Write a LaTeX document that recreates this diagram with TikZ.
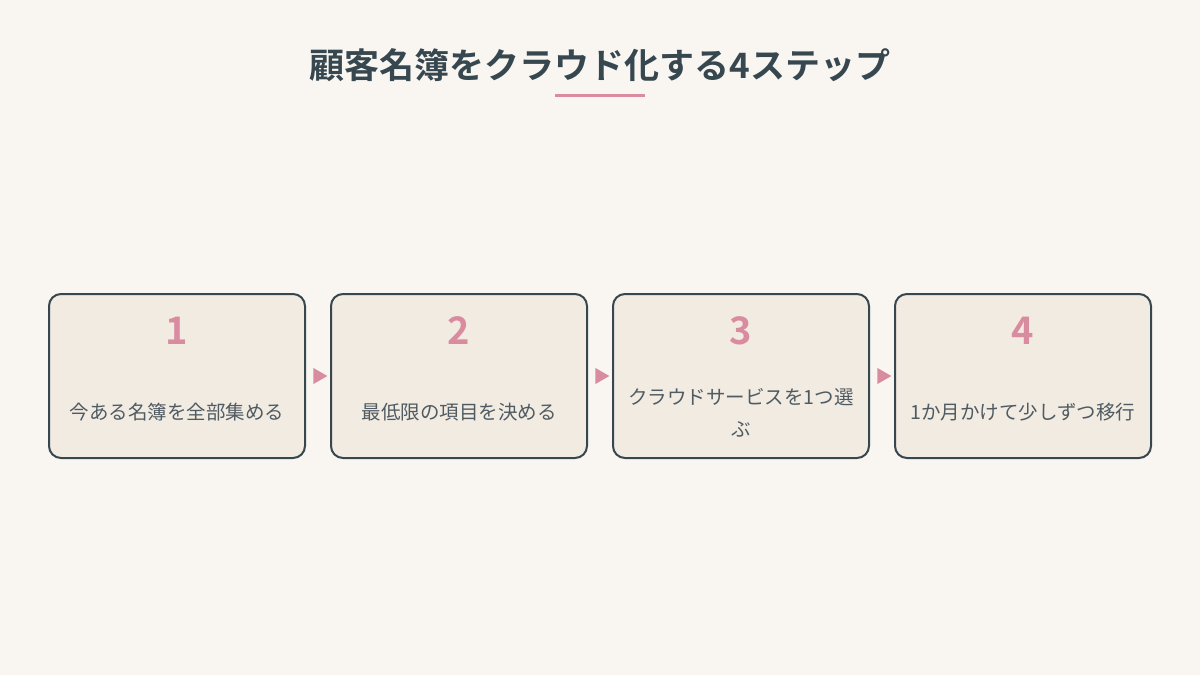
\documentclass[tikz,border=0pt]{standalone}
\usepackage{fontspec}
\newfontfamily\cjk{Noto Sans CJK JP}
\newfontfamily\cjkb{Noto Sans CJK JP Bold}
\definecolor{bg}{HTML}{F9F6F2}
\definecolor{boxfill}{HTML}{F2EBE2}
\definecolor{ink}{HTML}{37474F}
\definecolor{pink}{HTML}{D98BA0}
\definecolor{txt}{HTML}{4F5B62}
\tikzset{
  stepbox/.style={draw=ink, line width=2pt, fill=boxfill, rounded corners=12pt,
    minimum width=256pt, minimum height=164pt, inner sep=0pt},
  num/.style={font=\cjkb\fontsize{38}{38}\selectfont, text=pink},
  lbl/.style={font=\cjk\fontsize{19.5}{32}\selectfont, text=txt, align=center, text width=236pt},
  tri/.style={fill=pink, draw=none, isosceles triangle, isosceles triangle apex angle=60,
    minimum height=14pt, inner sep=0pt}
}
\usetikzlibrary{shapes.geometric}
\begin{document}
\begin{tikzpicture}[x=1pt,y=-1pt]
\fill[bg] (0,0) rectangle (1200,675);
\useasboundingbox (0,0) rectangle (1200,675);
\node[font=\cjkb\fontsize{35}{35}\selectfont, text=ink] (title) at (600,65) {顧客名簿をクラウド化する4ステップ};
\coordinate (ul1) at (555,95);
\coordinate (ul2) at (645,95);
\draw[pink, line width=3pt] (ul1) -- (ul2);
\foreach \i/\x/\t in {1/177/今ある名簿を全部集める, 2/459/最低限の項目を決める, 4/1023/1か月かけて少しずつ移行}{
  \node[stepbox] (b\i) at (\x,376) {};
  \node[num] (n\i) at (\x,331) {\i};
  \node[lbl] (l\i) at (\x,412) {\t};
}
\node[stepbox] (b3) at (741,376) {};
\node[num] (n3) at (741,331) {3};
\node[lbl] (l3) at (741,413) {クラウドサービスを1つ選\\ぶ};
\node[tri] (a1) at (318,376) {};
\node[tri] (a2) at (600,376) {};
\node[tri] (a3) at (882,376) {};
\end{tikzpicture}
\end{document}
